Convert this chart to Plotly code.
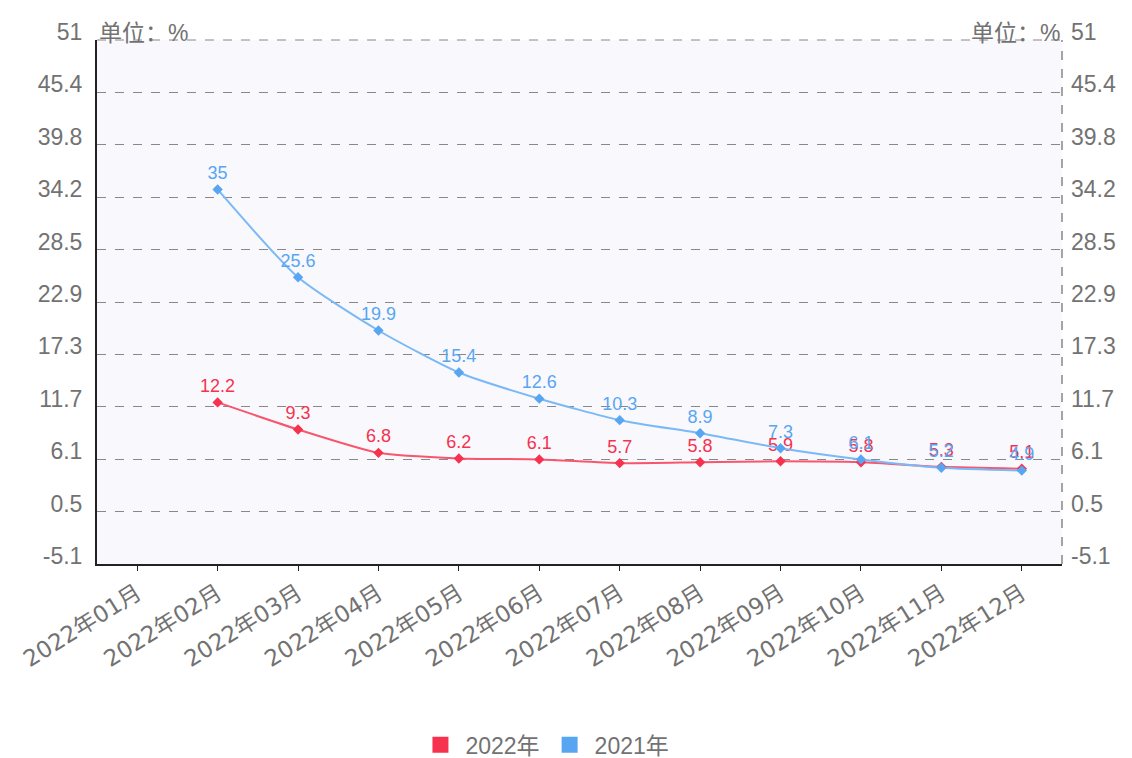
import plotly.graph_objects as go

months = ["2022年01月", "2022年02月", "2022年03月", "2022年04月", "2022年05月", "2022年06月",
          "2022年07月", "2022年08月", "2022年09月", "2022年10月", "2022年11月", "2022年12月"]
s2022 = [None, 12.2, 9.3, 6.8, 6.2, 6.1, 5.7, 5.8, 5.9, 5.8, 5.3, 5.1]
s2021 = [None, 35, 25.6, 19.9, 15.4, 12.6, 10.3, 8.9, 7.3, 6.1, 5.2, 4.9]
tick_vals = [-5.1, 0.51, 6.12, 11.73, 17.34, 22.95, 28.56, 34.17, 39.78, 45.39, 51]
tick_text = ["-5.1", "0.5", "6.1", "11.7", "17.3", "22.9", "28.5", "34.2", "39.8", "45.4", "51"]
unit_text = "单位：%"

RED = "#f5334f"
RED_LINE = "#f7566c"
BLUE = "#58a6f2"
BLUE_LINE = "#7bb9f6"
GRAY = "#727272"
FONT = "Liberation Sans, Noto Sans CJK SC, sans-serif"
XFONT = "DejaVu Sans, Noto Sans CJK SC, sans-serif"

fig = go.Figure()

def txt(vals):
    return ["" if v is None else (str(v) if v != int(v) else str(int(v))) for v in vals]

fig.add_trace(go.Scatter(
    x=months, y=s2022, mode="lines+markers+text", name="2022年", showlegend=False,
    line=dict(color=RED_LINE, width=2, shape="spline", smoothing=0.6),
    marker=dict(color=RED, symbol="diamond", size=8),
    text=txt(s2022), textposition="top center",
    textfont=dict(color=RED, size=18, family=FONT), connectgaps=False,
))
fig.add_trace(go.Scatter(
    x=months, y=s2021, mode="lines+markers+text", name="2021年", showlegend=False,
    line=dict(color=BLUE_LINE, width=2, shape="spline", smoothing=0.6),
    marker=dict(color=BLUE, symbol="diamond", size=8),
    text=txt(s2021), textposition="top center",
    textfont=dict(color=BLUE, size=18, family=FONT), connectgaps=False,
))
# legend entries with square swatches
fig.add_trace(go.Scatter(x=[None], y=[None], mode="markers", name="2022年",
                         marker=dict(color=RED, symbol="square", size=20)))
fig.add_trace(go.Scatter(x=[None], y=[None], mode="markers", name="2021年",
                         marker=dict(color=BLUE, symbol="square", size=20)))
# invisible trace to activate right axis
fig.add_trace(go.Scatter(x=[months[0]], y=[None], yaxis="y2", showlegend=False,
                         mode="markers", hoverinfo="skip"))

yaxis_common = dict(
    range=[-5.1, 51], tickvals=tick_vals, ticktext=tick_text,
    tickfont=dict(size=23, color=GRAY, family=FONT), zeroline=False, automargin=False,
)
fig.update_layout(
    width=1124, height=750,
    margin=dict(l=89, r=70, t=32, b=194, autoexpand=False),
    paper_bgcolor="white", plot_bgcolor="#f8f8fd",
    font=dict(family=FONT, color=GRAY),
    xaxis=dict(
        type="category", categoryorder="array", categoryarray=months,
        range=[-0.5, 11.5], tickangle=-32, automargin=False,
        tickfont=dict(size=23, color=GRAY, family=XFONT),
        showline=True, linecolor="#222222", linewidth=2,
        ticks="outside", ticklen=5, tickcolor="#222222",
        showgrid=False,
    ),
    yaxis=dict(
        **yaxis_common, showline=True, linecolor="#222222", linewidth=2,
        showgrid=True, gridcolor="#888888", griddash="dash", gridwidth=1.2,
        ticks="", ticklabelstandoff=8, ticklabelshift=-8,
    ),
    yaxis2=dict(
        **yaxis_common, overlaying="y", side="right", showgrid=False,
        showline=False, ticks="", ticklabelstandoff=8, ticklabelshift=-8,
    ),
    legend=dict(orientation="h", x=0.33, xanchor="left", y=-0.345, yanchor="middle",
                font=dict(size=23, color=GRAY, family=FONT), itemwidth=40),
    shapes=[
        dict(type="line", xref="paper", yref="paper", x0=1, x1=1, y0=0, y1=1,
             line=dict(color="#888888", width=1.5, dash="dash")),
        dict(type="line", xref="paper", yref="paper", x0=0, x1=1, y0=1, y1=1,
             line=dict(color="#888888", width=1.2, dash="dash")),
    ],
    annotations=[
        dict(text=unit_text, xref="paper", yref="paper", x=0, y=1, xanchor="left",
             yanchor="bottom", showarrow=False, yshift=-8,
             font=dict(size=23, color=GRAY, family=FONT)),
        dict(text=unit_text, xref="paper", yref="paper", x=1, y=1, xanchor="right",
             yanchor="bottom", showarrow=False, yshift=-8,
             font=dict(size=23, color=GRAY, family=FONT)),
    ],
)

fig.write_html("out.html")
